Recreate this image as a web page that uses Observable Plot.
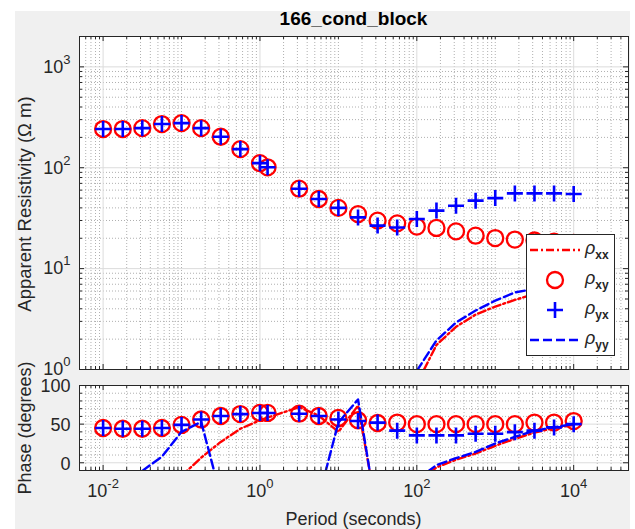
<!DOCTYPE html>
<html>
<head>
<meta charset="utf-8">
<script src="https://cdn.jsdelivr.net/npm/d3@7"></script>
<script src="https://cdn.jsdelivr.net/npm/@observablehq/plot@0.6"></script>
<style>
  html, body { margin: 0; padding: 0; background: #fff; }
  #fig { position: relative; width: 635px; height: 529px; overflow: hidden;
         font-family: "Liberation Sans", Arial, Helvetica, sans-serif; color: #262626; }
  .abs { position: absolute; }
  .title { left: 79px; width: 549px; top: 8px; line-height: 22px; text-align: center;
           font-weight: bold; font-size: 19px; color: #000; }
  .ylab { width: 320px; height: 22px; line-height: 22px; text-align: center; font-size: 18px;
          transform: rotate(-90deg); transform-origin: 50% 50%; white-space: nowrap; }
  .xlab { width: 320px; height: 22px; line-height: 22px; text-align: center; font-size: 18px; white-space: nowrap; }
</style>
</head>
<body>
<div id="fig">
  <div class="abs" style="left:15px;top:11px;width:615px;height:518px;background:#f0f0f0"></div>
  <div id="top" class="abs" style="left:0;top:0"></div>
  <div id="bottom" class="abs" style="left:0;top:375px"></div>
  <div class="abs title">166_cond_block</div>
  <div class="abs ylab" style="left:-135px;top:193px;font-size:18.5px">Apparent Resistivity (Ω m)</div>
  <div class="abs ylab" style="left:-135px;top:416.5px">Phase (degrees)</div>
  <div class="abs xlab" style="left:193.5px;top:508px">Period (seconds)</div>
  <div id="legend" class="abs" style="left:526px;top:234px"></div>
</div>
<script>
// Periods (s) of the responses
const period = [0.01, 0.0178, 0.0316, 0.0562, 0.1, 0.178, 0.316, 0.562, 1, 1.25,
                3.16, 5.62, 10, 17.8, 31.6, 56.2, 100, 178, 316, 562, 1000, 1778, 3162, 5623, 10000];

// Apparent resistivity (ohm m); null where the value lies far outside the axis
const rhoXX = [null, null, null, null, null, null, null, null, null, null,
               null, null, null, null, null, null, 0.72, 1.75, 2.65, 3.5, 4.2, 4.9, 5.6, 6.0, 6.3];
const rhoXY = [242, 242, 247, 271, 277, 247, 203, 153, 111, 101,
               62, 49, 40, 34.7, 29.9, 28.1, 26.1, 25.3, 23.4, 21.2, 20.1, 19.4, 19, 18.5, 18];
const rhoYX = [242, 242, 247, 271, 277, 247, 203, 153, 111, 101,
               62, 49, 40, 32.2, 26.7, 25.6, 31.0, 37.6, 42.0, 47.2, 50.0, 55.7, 55.7, 55.7, 55.0];
const rhoYY = [null, null, null, null, null, null, null, null, null, null,
               null, null, null, null, null, null, 0.97, 1.94, 2.92, 3.84, 4.82, 5.8, 6.3, 6.7, 7.0];

// Phase (degrees)
const phaseXX = [null, null, null, null, -17, 6.6, 27, 44, 55, 58.5,
                 72, 61, 40, 74, -68, null, -26, -6, 4, 12, 22, 31, 39, 45, 49];
const phaseXY = [45, 44, 44, 45, 49, 56, 60.5, 63, 64.5, 64.5,
                 63.5, 60.5, 58, 55, 51.5, 52, 50, 50, 50, 50, 50, 50, 52, 52, 54];
const phaseYX = [45, 44, 44, 45, 49, 56, 60.5, 63, 64.5, 64.5,
                 63.5, 60.5, 56, 54, 52, 41.6, 35.4, 35.4, 35.4, 37.5, 37.5, 39.6, 41.6, 45.8, 50];
const phaseYY = [null, null, -10.5, 8, 40, 53, -43, null, null, null,
                 null, -45, 52, 82, -73, null, -22, -3, 6, 14, 25, 33.5, 41.6, 46, 50];

// Axis ticks
const periodTicks = [0.01, 1, 100, 10000];
const rhoTicks = [1, 10, 100, 1000];
const phaseTicks = [0, 50, 100];
const phaseMinorTicks = [-10, 10, 20, 30, 40, 60, 70, 80, 90];

const FONT = '"Liberation Sans", Arial, Helvetica, sans-serif';
const INK = "#262626";
const RED = "#ff0000", BLUE = "#0000ff";
const MAJOR_GRID = "#dcdcdc", MINOR_GRID = "#b0b0b0";
const DASHDOT = "8,3,2,3", DASH = "9,4";
const LINE_W = 2.4;

const W = 635, mL = 79, mR = 7;
const fw = W - mL - mR;
const xDomain = [0.005, 50000];

// minor log ticks: n * 10^k inside (lo, hi), skipping the labelled ones
function logMinor(lo, hi, majors) {
  const out = [];
  for (let k = Math.floor(Math.log10(lo)); k <= Math.ceil(Math.log10(hi)); k++)
    for (let n = 1; n <= 9; n++) {
      const v = +(n * Math.pow(10, k)).toPrecision(6);
      if (v > lo && v < hi && !majors.includes(v)) out.push(v);
    }
  return out;
}
const periodMinor = logMinor(xDomain[0], xDomain[1], periodTicks);
const rhoMinor = logMinor(1, 2000, rhoTicks);

const rows = period.map((p, i) => ({
  p, rxx: rhoXX[i], rxy: rhoXY[i], ryx: rhoYX[i], ryy: rhoYY[i],
  pxx: phaseXX[i], pxy: phaseXY[i], pyx: phaseYX[i], pyy: phaseYY[i]
}));

// thin "+" marker
const plusSymbol = {
  draw(ctx, size) {
    const r = Math.sqrt(size / Math.PI);
    ctx.moveTo(-r, 0); ctx.lineTo(r, 0);
    ctx.moveTo(0, -r); ctx.lineTo(0, r);
  }
};

// inward tick marks on all four sides of a panel
function boxTicks(xMaj, xMin, yMaj, yMin, fh) {
  const s = {stroke: INK, strokeWidth: 1};
  return [
    Plot.tickX(xMaj, {x: d => d, insetTop: fh - 5, ...s}),
    Plot.tickX(xMaj, {x: d => d, insetBottom: fh - 5, ...s}),
    Plot.tickX(xMin, {x: d => d, insetTop: fh - 3, ...s}),
    Plot.tickX(xMin, {x: d => d, insetBottom: fh - 3, ...s}),
    Plot.tickY(yMaj, {y: d => d, insetRight: fw - 5, ...s}),
    Plot.tickY(yMaj, {y: d => d, insetLeft: fw - 5, ...s}),
    Plot.tickY(yMin, {y: d => d, insetRight: fw - 3, ...s}),
    Plot.tickY(yMin, {y: d => d, insetLeft: fw - 3, ...s})
  ];
}

function gridMarks(xMaj, xMin, yMaj, yMin) {
  return [
    Plot.ruleX(xMin, {x: d => d, stroke: MINOR_GRID, strokeDasharray: "1,2"}),
    Plot.ruleY(yMin, {y: d => d, stroke: MINOR_GRID, strokeDasharray: "1,2"}),
    Plot.ruleX(xMaj, {x: d => d, stroke: MAJOR_GRID}),
    Plot.ruleY(yMaj, {y: d => d, stroke: MAJOR_GRID})
  ];
}

// turn "10^k" labels into 10 with a raised exponent
function superscripts(svg) {
  svg.querySelectorAll("text").forEach(t => {
    if (t.querySelector("tspan")) return;
    const parts = t.textContent.split("^");
    if (parts.length < 2) return;
    t.textContent = parts[0];
    const s = document.createElementNS("http://www.w3.org/2000/svg", "tspan");
    s.setAttribute("dy", "-9");
    s.setAttribute("font-size", "13");
    s.textContent = parts[1];
    t.appendChild(s);
  });
}

// ---- resistivity panel ----
const H1 = 380, mT1 = 36, mB1 = 11, fh1 = H1 - mT1 - mB1;
const topPlot = Plot.plot({
  width: W, height: H1, marginLeft: mL, marginRight: mR, marginTop: mT1, marginBottom: mB1,
  style: {background: "transparent", fontFamily: FONT, overflow: "visible"},
  x: {type: "log", domain: xDomain, axis: null},
  y: {type: "log", domain: [1, 2000], axis: null},
  marks: [
    Plot.frame({fill: "white", stroke: "none"}),
    ...gridMarks(periodTicks, periodMinor, rhoTicks, rhoMinor),
    Plot.line(rows, {x: "p", y: "rxx", stroke: RED, strokeWidth: LINE_W, strokeDasharray: DASHDOT, clip: true}),
    Plot.dot(rows, {x: "p", y: "rxy", symbol: "circle", r: 8, stroke: RED, strokeWidth: 2.3, fill: "none"}),
    Plot.dot(rows, {x: "p", y: "ryx", symbol: plusSymbol, r: 8, stroke: BLUE, strokeWidth: 2.6, fill: "none"}),
    Plot.line(rows, {x: "p", y: "ryy", stroke: BLUE, strokeWidth: LINE_W, strokeDasharray: DASH, clip: true}),
    ...boxTicks(periodTicks, periodMinor, rhoTicks, rhoMinor, fh1),
    Plot.text(rhoTicks, {y: d => d, frameAnchor: "left", dx: -9, dy: 0, textAnchor: "end",
      text: d => "10^" + Math.round(Math.log10(d)), fontSize: 18, fill: INK}),
    Plot.frame({stroke: INK, strokeWidth: 1})
  ]
});
superscripts(topPlot);
document.getElementById("top").appendChild(topPlot);

// ---- phase panel ----
const H2 = 154, mT2 = 10, mB2 = 59, fh2 = H2 - mT2 - mB2;
const bottomPlot = Plot.plot({
  width: W, height: H2, marginLeft: mL, marginRight: mR, marginTop: mT2, marginBottom: mB2,
  style: {background: "transparent", fontFamily: FONT, overflow: "visible"},
  x: {type: "log", domain: xDomain, axis: null},
  y: {domain: [-10, 100], axis: null},
  marks: [
    Plot.frame({fill: "white", stroke: "none"}),
    ...gridMarks(periodTicks, periodMinor, phaseTicks, phaseMinorTicks),
    Plot.line(rows, {x: "p", y: "pxx", stroke: RED, strokeWidth: LINE_W, strokeDasharray: DASHDOT, clip: true}),
    Plot.dot(rows, {x: "p", y: "pxy", symbol: "circle", r: 8, stroke: RED, strokeWidth: 2.3, fill: "none"}),
    Plot.dot(rows, {x: "p", y: "pyx", symbol: plusSymbol, r: 8, stroke: BLUE, strokeWidth: 2.6, fill: "none"}),
    Plot.line(rows, {x: "p", y: "pyy", stroke: BLUE, strokeWidth: LINE_W, strokeDasharray: DASH, clip: true}),
    ...boxTicks(periodTicks, periodMinor, phaseTicks, phaseMinorTicks, fh2),
    Plot.text(phaseTicks, {y: d => d, frameAnchor: "left", dx: -9, dy: 1, textAnchor: "end",
      text: d => String(d), fontSize: 18, fill: INK}),
    Plot.text(periodTicks, {x: d => d, frameAnchor: "bottom", dy: 26, textAnchor: "middle",
      text: d => "10^" + Math.round(Math.log10(d)), fontSize: 18, fill: INK}),
    Plot.frame({stroke: INK, strokeWidth: 1})
  ]
});
superscripts(bottomPlot);
document.getElementById("bottom").appendChild(bottomPlot);

// ---- legend ----
const legendEntries = [
  {sub: "xx", stroke: RED, kind: "line", dash: DASHDOT},
  {sub: "xy", stroke: RED, kind: "circle"},
  {sub: "yx", stroke: BLUE, kind: "plus"},
  {sub: "yy", stroke: BLUE, kind: "line", dash: DASH}
];
const LW = 89, LH = 122;
let lg = `<svg width="${LW}" height="${LH}" xmlns="http://www.w3.org/2000/svg" style="display:block;font-family:${FONT.replace(/"/g, "'")}">`;
lg += `<rect x="0.5" y="0.5" width="${LW - 1}" height="${LH - 1}" fill="white" stroke="${INK}"/>`;
legendEntries.forEach((e, i) => {
  const cy = 16 + i * 30;
  if (e.kind === "line")
    lg += `<line x1="4" x2="54" y1="${cy}" y2="${cy}" stroke="${e.stroke}" stroke-width="${LINE_W}" stroke-dasharray="${e.dash}"/>`;
  else if (e.kind === "circle")
    lg += `<circle cx="29" cy="${cy}" r="8" fill="none" stroke="${e.stroke}" stroke-width="2.3"/>`;
  else
    lg += `<path d="M21,${cy}H37M29,${cy - 8}V${cy + 8}" stroke="${e.stroke}" stroke-width="2.6" fill="none"/>`;
  lg += `<text x="59" y="${cy + 4}" font-size="18" font-style="italic" fill="${INK}">ρ<tspan font-style="normal" font-weight="bold" font-size="12" dy="5">${e.sub}</tspan></text>`;
});
lg += `</svg>`;
document.getElementById("legend").innerHTML = lg;
</script>
</body>
</html>
